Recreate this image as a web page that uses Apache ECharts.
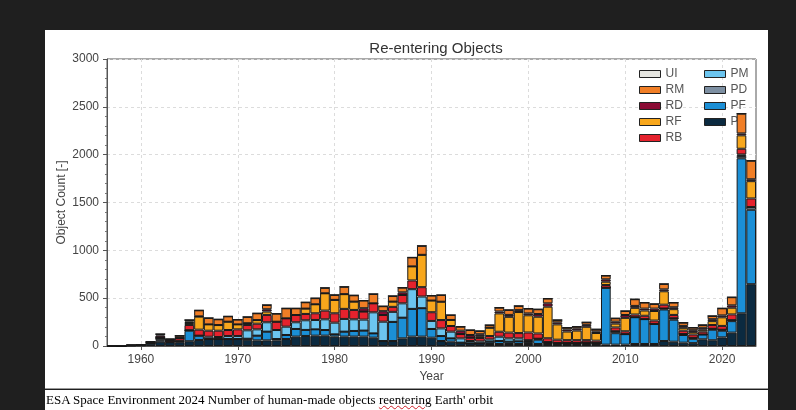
<!DOCTYPE html>
<html>
<head>
<meta charset="utf-8">
<script src="https://cdn.jsdelivr.net/npm/echarts@6/dist/echarts.min.js"></script>
<style>
  html, body { margin: 0; padding: 0; width: 796px; height: 410px; background: #1f1f1f; overflow: hidden; }
  #panel { position: absolute; left: 45px; top: 30px; width: 723px; height: 358px; background: #ffffff; border-bottom: 1px solid #9a9a9a; }
  #capbox { position: absolute; left: 45px; top: 390px; width: 723px; height: 20px; background: #ffffff; }
  #chart { position: absolute; left: 0; top: 0; width: 796px; height: 410px; }
  #caption { position: absolute; left: 46px; top: 392px; font-family: "Liberation Serif", "DejaVu Serif", serif; font-size: 13px; color: #000; white-space: nowrap; }
  #caption .sp { text-decoration: underline wavy #d0202a; text-decoration-thickness: 1px; }
</style>
</head>
<body>
<div id="panel"></div>
<div id="capbox"></div>
<div id="chart"></div>
<div id="caption">ESA Space Environment 2024 Number of human-made objects <span class="sp">reentering</span> Earth' orbit</div>
<script>
// Re-entering objects per year, by object class (1957 - 2023)
const years = [];
for (let y = 1957; y <= 2023; y++) years.push(String(y));

const PL = [1,3,5,8,25,45,40,40,50,63, 73,73,73,73,66,59,59,59,73,98, 105,108,108,98,98,98,98,87,52,52, 80,98,98,87,52,45,35,28,28,21, 21,21,21,21,21,21,21,21,21,21, 21,14,14,14,21,21,21,52,45,35, 30,70,60,90,140,342,646];
const PF = [0,0,0,0,5,15,5,10,110,45, 0,0,0,0,10,49,91,14,42,80, 63,66,59,24,52,59,63,45,0,200, 216,290,297,91,52,35,0,0,0,24, 31,24,28,20,45,10,10,10,10,15, 10,595,120,110,280,260,210,330,230,80, 45,50,110,70,120,1620,778];
const PD = [0,0,0,0,0,20,0,0,5,0, 0,0,0,0,0,0,0,0,0,0, 0,0,0,0,0,0,0,0,0,0, 0,0,0,0,0,0,0,0,0,0, 0,0,0,10,10,10,0,0,0,0, 0,0,20,0,0,0,0,10,15,10, 10,0,10,10,10,25,28];
const PM = [0,0,0,0,0,0,0,5,0,0, 24,21,31,31,88,66,98,94,87,70, 101,98,112,122,133,122,115,220,202,105, 150,206,122,84,80,70,45,24,20,24, 45,35,31,10,0,0,0,0,0,0, 0,0,0,0,0,0,0,0,0,0, 0,0,0,0,0,15,0];
const RB = [1,2,3,4,10,10,15,28,55,63, 63,66,63,70,56,59,77,87,87,76, 66,70,91,98,105,98,84,94,70,52, 87,91,98,91,87,59,45,35,35,35, 52,60,55,80,55,40,35,30,30,25, 25,28,40,30,28,35,35,40,35,35, 35,30,40,40,60,60,90];
const RF = [0,0,0,0,0,0,0,0,20,136, 66,59,87,52,18,38,35,0,0,0, 56,94,181,140,154,87,0,0,0,55, 0,147,338,122,192,63,0,0,20,87, 192,165,220,180,175,330,160,90,100,140, 80,35,40,140,70,55,100,140,60,30, 25,20,40,90,70,140,181];
const RD = [0,0,0,0,0,20,5,5,15,3, 0,0,0,0,0,0,24,0,0,0, 0,0,0,0,0,0,35,0,40,0, 28,0,0,0,0,0,35,28,20,0, 20,20,20,20,28,35,21,21,20,20, 17,25,20,30,20,20,25,20,20,20, 20,20,20,20,25,20,20];
const RM = [0,0,0,0,5,15,8,20,17,63, 67,60,56,50,66,71,45,84,105,70, 66,64,57,52,77,66,80,98,52,59, 49,94,94,52,70,52,42,52,34,28, 40,52,44,50,50,50,25,20,21,27, 22,39,36,42,70,63,49,57,49,34, 27,30,34,74,85,207,194];
const UI = [0,0,0,0,0,0,0,0,0,0, 0,0,0,0,0,0,0,0,0,0, 0,0,0,0,0,0,0,0,0,0, 0,0,0,0,0,0,0,0,0,0, 0,0,0,0,0,0,0,0,0,0, 0,0,0,0,0,0,0,0,0,0, 0,0,0,0,0,0,0];

// stacking order, bottom to top
const classes = [
  { name: 'PL', data: PL, color: '#0b2a40' },
  { name: 'PF', data: PF, color: '#1b8fd6' },
  { name: 'PD', data: PD, color: '#7d8fa2' },
  { name: 'PM', data: PM, color: '#6cc5ef' },
  { name: 'RB', data: RB, color: '#e5222d' },
  { name: 'RF', data: RF, color: '#f8a71c' },
  { name: 'RD', data: RD, color: '#8a0b34' },
  { name: 'RM', data: RM, color: '#f07e26' },
  { name: 'UI', data: UI, color: '#e6e6e1' }
];
const legendLeft = ['UI', 'RM', 'RD', 'RF', 'RB'];
const legendRight = ['PM', 'PD', 'PF', 'PL'];

const decade = (idx, val) => Number(val) % 10 === 0;

const chart = echarts.init(document.getElementById('chart'), null, { renderer: 'canvas' });
const textFont = '"Liberation Sans", Arial, sans-serif';

const legendCommon = {
  orient: 'vertical',
  z: 1,
  itemWidth: 21,
  itemHeight: 7,
  itemGap: 4,
  icon: 'rect',
  itemStyle: { borderColor: '#222', borderWidth: 1 },
  textStyle: { fontFamily: textFont, fontSize: 12, color: '#555', lineHeight: 12 },
  selectedMode: false
};

chart.setOption({
  backgroundColor: 'transparent',
  animation: false,
  title: {
    text: 'Re-entering Objects',
    left: 431, top: 36, textAlign: 'center',
    textStyle: { fontFamily: textFont, fontSize: 15, fontWeight: 'normal', color: '#333' }
  },
  legend: [
    Object.assign({ data: legendLeft, left: 634, top: 63 }, legendCommon),
    Object.assign({ data: legendRight, left: 699, top: 63 }, legendCommon)
  ],
  grid: {
    left: 107, right: 40, top: 59, bottom: 64,
    show: true, borderColor: '#555', borderWidth: 1, backgroundColor: 'transparent'
  },
  xAxis: {
    type: 'category', data: years, boundaryGap: true,
    name: 'Year', nameLocation: 'middle', nameGap: 21,
    nameTextStyle: { fontFamily: textFont, fontSize: 12, color: '#444' },
    axisLine: { lineStyle: { color: '#555' } },
    axisTick: { show: true, length: 4, alignWithLabel: true, interval: decade, lineStyle: { color: '#555' } },
    axisLabel: { interval: decade, fontFamily: textFont, fontSize: 12, color: '#444', margin: 8 },
    splitLine: { show: true, alignWithLabel: true, interval: decade, lineStyle: { color: '#dcdcdc', type: [3, 3] } }
  },
  yAxis: {
    type: 'value', min: 0, max: 3000, interval: 500,
    name: 'Object Count [-]', nameLocation: 'middle', nameGap: 39, nameMoveOverlap: false,
    nameTextStyle: { fontFamily: textFont, fontSize: 12, color: '#444' },
    axisLine: { show: true, lineStyle: { color: '#555' } },
    axisTick: { show: true, length: 4, lineStyle: { color: '#555' } },
    minorTick: { show: true, splitNumber: 5, length: 2, lineStyle: { color: '#777' } },
    axisLabel: { formatter: v => String(v), fontFamily: textFont, fontSize: 12, color: '#444', margin: 8 },
    splitLine: { show: true, lineStyle: { color: '#dcdcdc', type: [3, 3] } }
  },
  series: classes.map(c => ({
    name: c.name,
    type: 'bar',
    stack: 'total',
    z: 2,
    barWidth: '100%',
    itemStyle: { color: c.color, borderColor: '#1a1a1a', borderWidth: 1 },
    data: c.data
  }))
});
</script>
</body>
</html>
